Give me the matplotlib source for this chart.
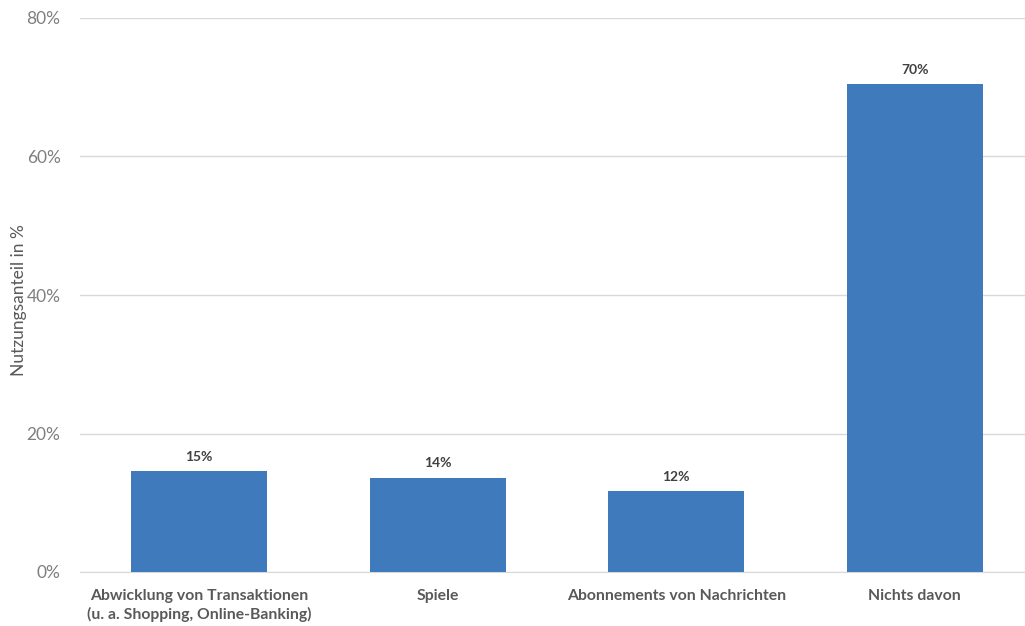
import matplotlib
matplotlib.use("Agg")
import matplotlib.pyplot as plt
from matplotlib.ticker import FuncFormatter

plt.rcParams['font.family'] = ['Lato', 'DejaVu Sans']

# Nutzung nach Kategorie
categories = [
    "Abwicklung von Transaktionen\n(u. a. Shopping, Online-Banking)",
    "Spiele",
    "Abonnements von Nachrichten",
    "Nichts davon",
]
shares = [14.6, 13.6, 11.7, 70.4]
yticks = [0, 20, 40, 60, 80]

BAR_COLOR = "#3f7abd"
GRID_COLOR = "#d9d9d9"

fig = plt.figure(figsize=(10.25, 6.26), dpi=100)
ax = fig.add_axes([80 / 1025, 1 - 572 / 626, 954 / 1025, (572 - 18) / 626])

x = range(len(categories))
bars = ax.bar(x, shares, width=0.57, color=BAR_COLOR, zorder=3)

# Werte über den Balken
for rect, v in zip(bars, shares):
    ax.annotate(f"{v:.0f}%", (rect.get_x() + rect.get_width() / 2, rect.get_height()),
                xytext=(0, 6), textcoords="offset points", ha="center", va="bottom",
                fontsize=10, fontweight="bold", color="#404040")

ax.set_xlim(-0.5, len(categories) - 0.5)
ax.set_ylim(0, 80)
ax.set_yticks(yticks)
ax.yaxis.set_major_formatter(FuncFormatter(lambda v, p: f"{v:.0f}%"))
ax.set_xticks(list(x))
ax.set_xticklabels(categories, fontsize=11.3, fontweight="bold", color="#595959",
                   linespacing=1.35)

ax.grid(axis="y", color=GRID_COLOR, linewidth=1, zorder=0)
for s in ["top", "right", "left"]:
    ax.spines[s].set_visible(False)
ax.spines["bottom"].set_color(GRID_COLOR)
ax.tick_params(axis="both", length=0)
ax.tick_params(axis="y", labelsize=12.5, labelcolor="#7f7f7f", pad=14)
ax.tick_params(axis="x", pad=12)

# Achsentitel links am Bildrand
fig.text(19 / 1025, 1 - 300 / 626, "Nutzungsanteil in %", rotation=90,
         ha="center", va="center", fontsize=12.5, color="#595959")

plt.savefig("out.png", dpi=100)
